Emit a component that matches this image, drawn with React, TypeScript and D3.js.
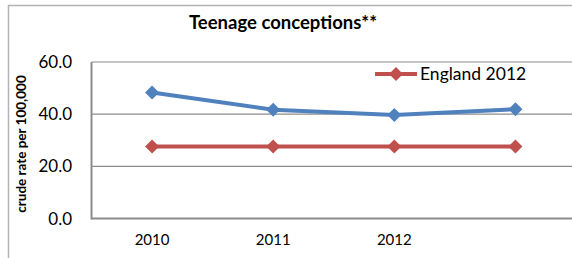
import { useMemo } from "react";
import * as d3 from "d3";

// category labels (4th point has no label in the source)
const years = ["2010", "2011", "2012", ""];
const localRate = [48.3, 41.7, 39.7, 41.9];
const englandRate = [27.6, 27.6, 27.6, 27.6];
const yTicks = [0, 20, 40, 60];

const W = 572;
const H = 258;
const FONT = "Lato, 'Open Sans', sans-serif";

const BLUE = "#4F81BD";
const RED = "#C0504D";

function diamond(cx: number, cy: number, r: number) {
  return `M${cx},${cy - r}L${cx + r},${cy}L${cx},${cy + r}L${cx - r},${cy}Z`;
}

export default function App() {
  const plot = { left: 91.5, top: 62, right: 576, bottom: 218.5 };

  const x = useMemo(
    () => d3.scaleBand<string>().domain(years.map((_, i) => String(i))).range([plot.left, plot.right]),
    []
  );
  const y = useMemo(() => d3.scaleLinear().domain([0, 60]).range([plot.bottom, plot.top]), []);

  const cx = (i: number) => (x(String(i)) ?? 0) + x.bandwidth() / 2;

  const line = d3
    .line<number>()
    .x((_, i) => cx(i))
    .y((d) => y(d));

  return (
    <div style={{ position: "absolute", left: 0, top: 0 }}>
      <svg width={W} height={H} style={{ display: "block", background: "#fff" }}>
        {/* chart frame */}
        <rect x={8.5} y={5.5} width={W} height={H} fill="none" stroke="#b3b3b3" strokeWidth={1.5} />

        <text x={283} y={29} textAnchor="middle" fontFamily={FONT} fontWeight={700} fontSize={18.5} fill="#000">
          Teenage conceptions**
        </text>

        {/* gridlines */}
        {yTicks.map((t) => (
          <line key={t} x1={plot.left} x2={plot.right} y1={y(t)} y2={y(t)} stroke="#8c8c8c" strokeWidth={t === 0 ? 2 : 1.2} />
        ))}
        <line x1={plot.left} x2={plot.left} y1={plot.top} y2={plot.bottom + 1} stroke="#8c8c8c" strokeWidth={2} />

        {/* y tick labels */}
        {yTicks.map((t) => (
          <text key={t} x={72} y={y(t)} dy="0.36em" textAnchor="end" fontFamily={FONT} fontSize={17} fill="#000">
            {d3.format(".1f")(t)}
          </text>
        ))}

        <text
          transform={`translate(26,144) rotate(-90)`}
          textAnchor="middle"
          fontFamily={FONT}
          fontWeight={700}
          fontSize={13.5}
          fill="#000"
        >
          crude rate per 100,000
        </text>

        {/* x labels */}
        {years.map((yr, i) => (
          <text key={i} x={cx(i)} y={240} dy="0.35em" textAnchor="middle" fontFamily={FONT} fontSize={15} fill="#000">
            {yr}
          </text>
        ))}

        {/* series */}
        <path d={line(englandRate) ?? ""} fill="none" stroke={RED} strokeWidth={4} />
        {englandRate.map((d, i) => (
          <path key={i} d={diamond(cx(i), y(d), 7)} fill={RED} />
        ))}
        <path d={line(localRate) ?? ""} fill="none" stroke={BLUE} strokeWidth={4} />
        {localRate.map((d, i) => (
          <path key={i} d={diamond(cx(i), y(d), 7)} fill={BLUE} />
        ))}

        {/* legend */}
        <line x1={375} x2={417} y1={74} y2={74} stroke={RED} strokeWidth={4} />
        <path d={diamond(396, 74, 7)} fill={RED} />
        <text x={420} y={74} dy="0.36em" fontFamily={FONT} fontSize={17.5} fill="#000">
          England 2012
        </text>
      </svg>
    </div>
  );
}
